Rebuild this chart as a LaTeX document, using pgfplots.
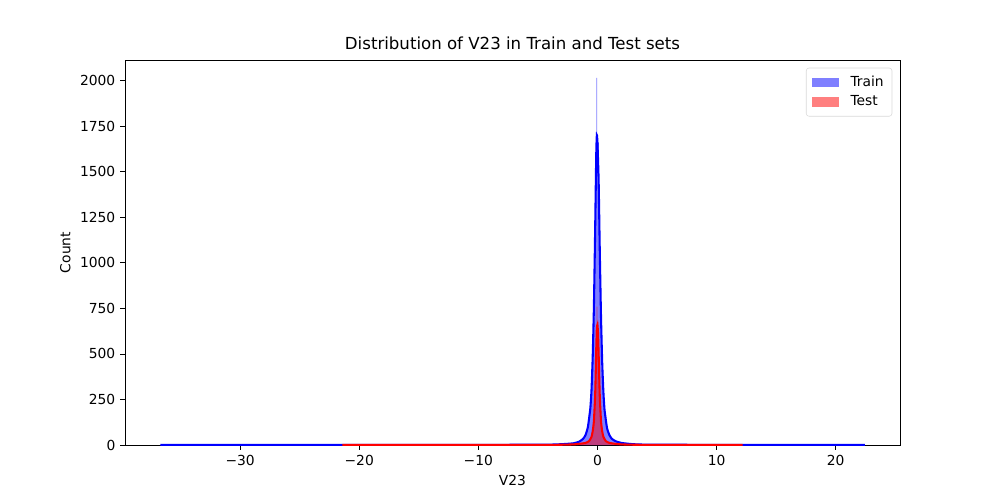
\documentclass[border=0pt]{standalone}
\usepackage{fontspec}
\setmainfont{DejaVu Sans}
\usepackage{pgfplots}
\pgfplotsset{compat=1.18}
\definecolor{trainc}{RGB}{0,0,255}
\definecolor{testc}{RGB}{255,0,0}
\begin{document}
\begin{tikzpicture}
\begin{axis}[
  scale only axis,
  width=560.3pt, height=278.4pt,
  xmin=-39.66, xmax=25.4, ymin=0, ymax=2112,
  xtick={-30,-20,-10,0,10,20},
  xticklabels={−30,−20,−10,0,10,20},
  ytick={0,250,500,750,1000,1250,1500,1750,2000},
  yticklabels={0,250,500,750,1000,1250,1500,1750,2000},
  tick align=outside, xtick pos=bottom, ytick pos=left,
  major tick length=3.5pt,
  tick style={black, line width=0.6pt},
  axis line style={line width=0.6pt},
  ticklabel style={font=\fontsize{10}{12}\selectfont},
  xlabel={V23}, ylabel={Count},
  label style={font=\fontsize{10}{12}\selectfont},
  title={Distribution of V23 in Train and Test sets},
  title style={font=\fontsize{12}{14}\selectfont, yshift=-2pt},
  legend style={at={(0.99,0.98)}, anchor=north east, draw=black!15, rounded corners=2pt,
    /tikz/every odd column/.append style={column sep=6pt},
    font=\fontsize{10}{12}\selectfont, row sep=1pt, inner sep=4pt},
  legend cell align=left,
  legend image code/.code={\fill[#1, draw=none, rounded corners=0pt] (0pt,-3.5pt) rectangle (20pt,3.5pt);},
]
% Train histogram
\addplot[const plot mark left, fill=trainc, fill opacity=0.5, draw=none] coordinates {
(-36.7,0)(-36.7,1)(-20,1)(-5,2)(-3,4)(-2.04,8)(-1.92,10)(-1.80,13)(-1.68,16)(-1.56,20)(-1.44,26)
(-1.32,33)(-1.20,43)(-1.08,58)(-0.96,80)(-0.84,115)(-0.72,170)(-0.60,260)(-0.48,420)
(-0.36,700)(-0.24,1150)(-0.12,1700)(-0.08,2014)(-0.03,1700)(0.00,1660)(0.12,1100)(0.24,680)(0.36,410)
(0.48,250)(0.60,165)(0.72,110)(0.84,78)(0.96,56)(1.08,42)(1.20,32)(1.32,25)(1.44,20)
(1.56,16)(1.68,13)(1.80,10)(1.92,7)(3,4)(5,2)(20,1)(22.44,0)
} \closedcycle;
\addlegendentry{Train}
% Test histogram
\addplot[const plot mark left, fill=testc, fill opacity=0.5, draw=none] coordinates {
(-21.42,0)(-21.42,1)(-5,1)(-3,2)(-1.40,4)(-1.33,5)(-1.26,5)(-1.19,6)(-1.12,7)(-1.05,8)(-0.98,10)
(-0.91,12)(-0.84,14)(-0.77,17)(-0.70,21)(-0.63,27)(-0.56,35)(-0.49,48)(-0.42,70)
(-0.35,110)(-0.28,180)(-0.21,300)(-0.14,560)(-0.07,760)(0.00,640)(0.07,470)(0.14,270)
(0.21,165)(0.28,105)(0.35,68)(0.42,46)(0.49,33)(0.56,26)(0.63,20)(0.70,16)(0.77,13)
(0.84,11)(0.91,9)(0.98,8)(1.05,7)(1.12,6)(1.19,5)(1.26,5)(1.33,4)(1.40,2)(3,1)(12.19,0)
} \closedcycle;
\addlegendentry{Test}
% Train KDE
\addplot[trainc, line width=1.5pt, smooth, tension=0.3, forget plot] coordinates {
(-36.7,0.5)(-20,0.6)(-5,2)(-3,5)(-2,10)(-1.5,20)(-1.2,35)(-1.0,55)(-0.8,100)(-0.6,200)
(-0.5,300)(-0.4,480)(-0.3,750)(-0.2,1150)(-0.1,1600)(-0.05,1700)(0,1660)(0.1,1450)
(0.2,1050)(0.3,700)(0.4,450)(0.5,290)(0.6,190)(0.8,95)(1.0,55)(1.2,35)(1.5,22)(2,12)
(3,5)(5,2)(20,0.6)(22.44,0.5)
};
% Test KDE
\addplot[testc, line width=1.5pt, smooth, tension=0.3, forget plot] coordinates {
(-21.42,0.5)(-5,1)(-3,2)(-2,4)(-1.5,7)(-1,12)(-0.7,22)(-0.5,45)(-0.4,75)(-0.3,130)
(-0.2,260)(-0.15,380)(-0.1,530)(-0.05,640)(0,660)(0.05,610)(0.1,500)(0.15,370)(0.2,260)
(0.3,130)(0.4,75)(0.5,45)(0.7,22)(1,12)(1.5,7)(2,4)(3,2)(5,1)(12.19,0.5)
};
\end{axis}
\path[use as bounding box] ([shift={(-90.4pt,-39.8pt)}]current axis.south west) rectangle ([shift={(72.3pt,43.4pt)}]current axis.north east);
\end{tikzpicture}
\end{document}
